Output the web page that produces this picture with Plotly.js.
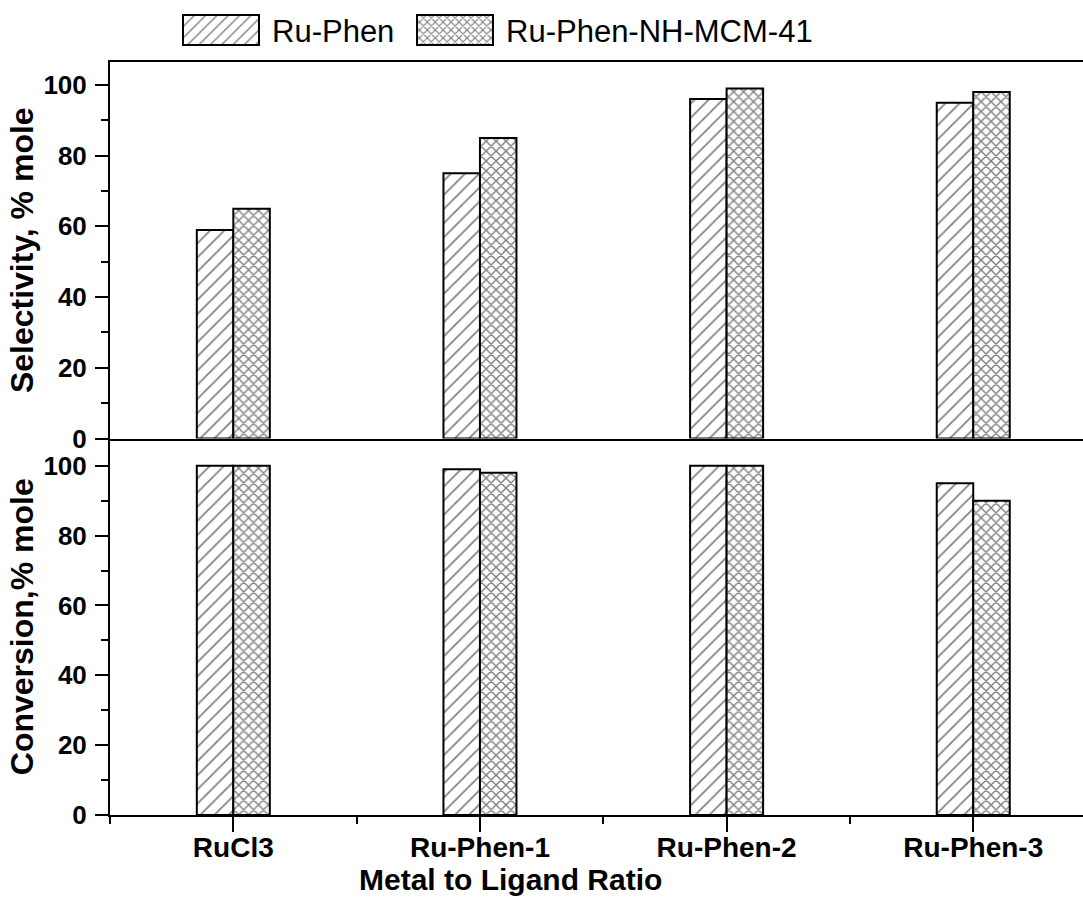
<!DOCTYPE html>
<html>
<head>
<meta charset="utf-8">
<script src="https://cdn.plot.ly/plotly-3.0.1.min.js"></script>
<style>html,body{margin:0;padding:0;background:#fff;}#chart{width:1083px;height:919px;}</style>
</head>
<body>
<div id="chart"></div>
<script>
const categories = ["RuCl3", "Ru-Phen-1", "Ru-Phen-2", "Ru-Phen-3"];
const seriesNames = ["Ru-Phen", "Ru-Phen-NH-MCM-41"];
const selectivityRuPhen = [59, 75, 96, 95];
const selectivityMCM = [65, 85, 99, 98];
const conversionRuPhen = [100, 99, 100, 95];
const conversionMCM = [100, 98, 100, 90];
const yTickVals = [0, 20, 40, 60, 80, 100];

const xpos = categories.map((c, i) => i);
const font = "Liberation Sans, Arial, sans-serif";
const lineStyle = {color: "#000", width: 2};
const patSlash = {shape: "/", fgcolor: "#000", bgcolor: "#fff", size: 10, solidity: 0.17, fillmode: "overlay"};
const patCross = {shape: "x", fgcolor: "#000", bgcolor: "#fff", size: 7, solidity: 0.36, fillmode: "overlay"};

function bar(y, name, pat, xa, ya, show, leg) {
  return {
    type: "bar", x: xpos, y: y, name: name, xaxis: xa, yaxis: ya,
    showlegend: show, legend: leg, legendgroup: name, offsetgroup: name,
    marker: {color: "#fff", line: lineStyle, pattern: pat},
    hoverinfo: "x+y"
  };
}

const data = [
  bar(selectivityRuPhen, seriesNames[0], patSlash, "x2", "y2", true, "legend"),
  bar(selectivityMCM, seriesNames[1], patCross, "x2", "y2", true, "legend2"),
  bar(conversionRuPhen, seriesNames[0], patSlash, "x", "y", false, "legend"),
  bar(conversionMCM, seriesNames[1], patCross, "x", "y", false, "legend2")
];

const xRange = [-0.5, 3.445];
const yCommon = {
  tickmode: "array", tickvals: yTickVals,
  ticks: "outside", ticklen: 13, tickwidth: 2, tickcolor: "#000",
  minor: {dtick: 10, tick0: 0, ticks: "outside", ticklen: 7, tickwidth: 2, tickcolor: "#000"},
  showline: true, linecolor: "#000", linewidth: 2,
  showgrid: false, zeroline: false,
  tickfont: {family: font, size: 26, color: "#000", weight: "bold"},
  ticklabelstandoff: 3
};
const legendCommon = {
  orientation: "h", xanchor: "left", y: 1.042, yanchor: "middle",
  font: {family: font, size: 31, color: "#000"},
  itemwidth: 84, bgcolor: "rgba(0,0,0,0)"
};

const layout = {
  width: 1083, height: 919,
  paper_bgcolor: "#fff", plot_bgcolor: "#fff",
  margin: {l: 110, r: 0, t: 62, b: 104},
  barmode: "group", bargap: 0.704, bargroupgap: 0,
  showlegend: true,
  legend: Object.assign({}, legendCommon, {x: 0.0699}),
  legend2: Object.assign({}, legendCommon, {x: 0.3104}),
  xaxis: {
    domain: [0, 1], anchor: "y", range: xRange,
    tickmode: "array", tickvals: xpos, ticktext: categories,
    ticks: "outside", ticklen: 15, tickwidth: 2, tickcolor: "#000",
    minor: {tickmode: "array", tickvals: [-0.5, 0.5, 1.5, 2.5], ticks: "outside", ticklen: 7, tickwidth: 2, tickcolor: "#000"},
    showline: true, linecolor: "#000", linewidth: 2,
    showgrid: false, zeroline: false,
    tickfont: {family: font, size: 28, color: "#000", weight: "bold"},
    ticklabelstandoff: -9
  },
  xaxis2: {
    domain: [0, 1], anchor: "y2", range: xRange, matches: "x",
    showticklabels: false, ticks: "",
    showline: true, mirror: true, linecolor: "#000", linewidth: 2,
    showgrid: false, zeroline: false
  },
  yaxis: Object.assign({}, yCommon, {
    domain: [0, 0.5], anchor: "x", range: [0, 107.8],
    title: {text: "Conversion,% mole", font: {family: font, size: 32, color: "#000", weight: "bold"}, standoff: 0}
  }),
  yaxis2: Object.assign({}, yCommon, {
    domain: [0.5, 1], anchor: "x2", range: [0, 106.5],
    title: {text: "Selectivity, % mole", font: {family: font, size: 32, color: "#000", weight: "bold"}, standoff: 0}
  }),
  annotations: [{
    text: "<b>Metal to Ligand Ratio</b>", xref: "paper", yref: "paper",
    x: 0.412, y: -0.085, xanchor: "center", yanchor: "middle", showarrow: false,
    font: {family: font, size: 30, color: "#000"}
  }]
};

Plotly.newPlot("chart", data, layout, {displayModeBar: false, staticPlot: true}).then(function (gd) {
  // enlarge the legend swatches to the wide hatched boxes of the reference
  gd.querySelectorAll("[class^='legend'] .legendpoints path").forEach(function (p) {
    p.setAttribute("d", "M34,15H-42V-15H34Z");
  });
});
</script>
</body>
</html>
